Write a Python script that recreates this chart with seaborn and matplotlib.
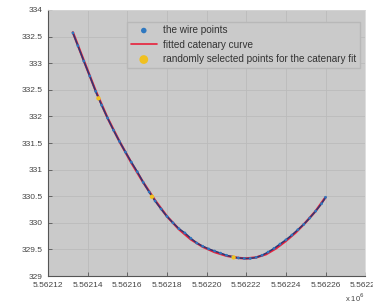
import matplotlib
matplotlib.use("Agg")
import matplotlib.pyplot as plt
import seaborn as sns
import numpy as np
import pandas as pd

# offsets (m) from 5562120 along easting, heights (m)
X0 = 5562120
wire_dx = [12.5, 15, 18, 21, 24, 27, 30, 33, 36, 39, 42, 45, 48, 51, 54, 57, 60, 63, 66,
           69, 72, 75, 78, 81, 84, 87, 90, 93, 96, 99, 102, 105, 108, 111, 114, 117, 120,
           123, 126, 129, 132, 135, 138, 140]
wire_y = [333.57, 333.33, 333.04, 332.76, 332.47, 332.21, 331.97, 331.74, 331.53, 331.33,
          331.14, 330.96, 330.76, 330.58, 330.41, 330.26, 330.12, 330.00, 329.89, 329.81,
          329.71, 329.62, 329.56, 329.51, 329.47, 329.43, 329.39, 329.36, 329.34, 329.33,
          329.33, 329.35, 329.39, 329.45, 329.52, 329.60, 329.68, 329.77, 329.87, 329.97,
          330.09, 330.22, 330.36, 330.48]
fit_dx = [12.5, 18, 24, 30, 36, 42, 48, 54, 60, 66, 72, 78, 84, 90, 96, 100, 105, 110,
          115, 120, 125, 130, 135, 140]
fit_y = [333.58, 333.05, 332.48, 331.97, 331.53, 331.13, 330.76, 330.42, 330.12, 329.88,
         329.69, 329.55, 329.45, 329.38, 329.34, 329.33, 329.35, 329.41, 329.52, 329.66,
         329.82, 330.01, 330.22, 330.48]
sel_dx = [25.4, 52.4, 93.6]
sel_y = [332.34, 330.49, 329.35]

xticks_dx = [0, 20, 40, 60, 80, 100, 120, 140, 160]
xtick_labels = ["5.56212", "5.56214", "5.56216", "5.56218", "5.56220", "5.56222",
                "5.56224", "5.56226", "5.56228"]
yticks = [329, 329.5, 330, 330.5, 331, 331.5, 332, 332.5, 333, 333.5, 334]
ytick_labels = ["329", "329.5", "330", "330.5", "331", "331.5", "332", "332.5", "333",
                "332.5", "334"]

sns.set_style("white")
plt.rcParams['font.family'] = ['Liberation Sans', 'DejaVu Sans']

fig = plt.figure(figsize=(3.73, 3.03), dpi=100)
ax = fig.add_axes([0.129, 0.089, 0.850, 0.878])
ax.set_facecolor("#cacaca")

wire = pd.DataFrame({"x": [X0 + d for d in wire_dx], "y": wire_y})
fit = pd.DataFrame({"x": [X0 + d for d in fit_dx], "y": fit_y})
sel = pd.DataFrame({"x": [X0 + d for d in sel_dx], "y": sel_y})

sns.lineplot(data=fit, x="x", y="y", sort=False, color="#e8203a", linewidth=1.7,
             ax=ax, zorder=2, label="fitted catenary curve")
# dense wire band
sns.lineplot(data=wire, x="x", y="y", sort=False, color="#2b3a78", linewidth=1.1,
             ax=ax, zorder=3, legend=False)
sns.scatterplot(data=wire, x="x", y="y", color="#2f78c0", edgecolor="none",
                s=4, ax=ax, zorder=4, label="the wire points")
sns.scatterplot(data=sel, x="x", y="y", color="#f0c020", edgecolor="none", s=10,
                ax=ax, zorder=5, label="randomly selected points for the catenary fit")

ax.set_xlim(X0, X0 + 160)
ax.set_ylim(329, 334)
ax.set_xticks([X0 + d for d in xticks_dx])
ax.set_xticklabels(xtick_labels)
ax.set_yticks(yticks)
ax.set_yticklabels(ytick_labels)
ax.set_xlabel("")
ax.set_ylabel("")
ax.grid(True, color="#bbbbbb", linewidth=0.6)
ax.set_axisbelow(True)
ax.tick_params(axis="both", direction="in", length=3, width=0.6, labelsize=6,
               colors="#555555", labelcolor="#444444", pad=4)
ax.tick_params(axis="both", which="both", bottom=True, left=True)
for side in ["left", "bottom"]:
    ax.spines[side].set_color("#555555")
    ax.spines[side].set_linewidth(0.8)
for side in ["top", "right"]:
    ax.spines[side].set_color("#d8d8d8")
    ax.spines[side].set_linewidth(0.6)

h, l = ax.get_legend_handles_labels()
handles = [h[l.index("the wire points")], h[l.index("fitted catenary curve")],
           h[l.index("randomly selected points for the catenary fit")]]
labels = ["the wire points", "fitted catenary curve",
          "randomly selected points for the catenary fit"]
leg = ax.legend(handles, labels, loc="upper right",
                bbox_to_anchor=(0.998, 0.975), fontsize=7.2, frameon=True,
                facecolor="#cacaca", edgecolor="#b8b8b8", framealpha=1,
                handlelength=2.6, handletextpad=0.6, borderpad=0.35, labelspacing=0.45,
                fancybox=False, markerscale=2.0)
leg.get_lines()[0].set_linewidth(1.2) if leg.get_lines() else None
for t in leg.get_texts():
    t.set_color("#333333")

fig.text(0.925, 0.004, r"x 10$^6$", fontsize=5.5, color="#444444")

fig.savefig("out.png", dpi=100)
